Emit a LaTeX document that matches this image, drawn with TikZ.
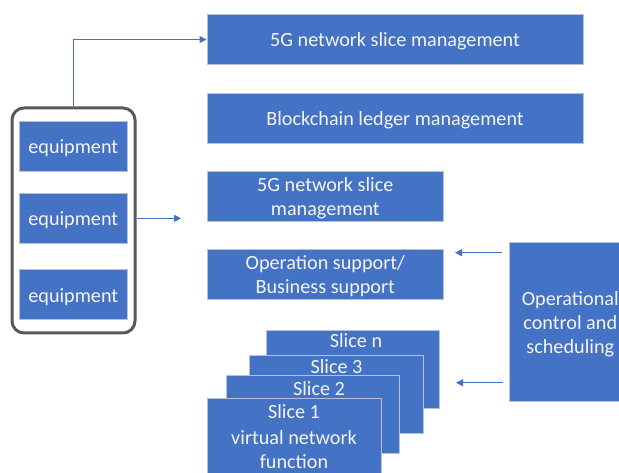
\documentclass[tikz,border=0pt]{standalone}
\usepackage{fontspec}
\setmainfont{Carlito}
\usetikzlibrary{arrows.meta}
\definecolor{boxblue}{HTML}{4472C4}
\definecolor{boxedge}{HTML}{B4C2DE}
\definecolor{txt}{HTML}{F4F4F4}
\definecolor{frame}{HTML}{595959}
\newcommand{\topst}{\rule{0pt}{18.5pt}}
\newcommand{\botst}{\rule[-4.5pt]{0pt}{0pt}}
\tikzset{
  bluebox/.style={draw=boxedge, line width=1pt, fill=boxblue, text=txt, inner sep=0pt,
    font=\fontsize{20.2}{24}\selectfont, align=center},
  plainbox/.style={draw=boxedge, line width=1pt, fill=boxblue, inner sep=0pt},
  arr/.style={draw=boxblue, line width=1pt, -{Triangle[length=7pt,width=7pt]}},
  slicelbl/.style={text=txt, font=\fontsize{20.2}{24}\selectfont, inner sep=0pt}
}
\begin{document}
\begin{tikzpicture}[x=1pt,y=-1pt]
\useasboundingbox (0,0) rectangle (619,473);
\clip (0,0) rectangle (619,473);
\fill[white] (0,0) rectangle (619,473);
% top boxes
\node[bluebox, minimum width=376pt, minimum height=50pt] (top) at (395,39.5) {\topst 5G network slice management\botst};
\node[bluebox, minimum width=376pt, minimum height=50pt] (chain) at (395,118.3) {\topst Blockchain ledger management\botst};
\node[bluebox, minimum width=236pt, minimum height=50pt] (slice5g) at (325.3,196.7) {\topst 5G network slice\\management\botst};
\node[bluebox, minimum width=236pt, minimum height=50pt] (oss) at (325.3,275) {\topst Operation support/\\Business support\botst};
% operational control
\node[bluebox, minimum width=122pt, minimum height=159pt] (opc) at (570.3,322.2) {\topst Operational\\control and\\scheduling\botst};
% slices
\node[plainbox, minimum width=173pt, minimum height=78pt] (slicen) at (353.3,369.2) {};
\node[slicelbl] (lbln) at (356,341) {Slice n};
\node[plainbox, minimum width=174pt, minimum height=78pt] (slice3) at (336.3,394.2) {};
\node[slicelbl] (lbl3) at (336.5,367) {Slice 3};
\node[plainbox, minimum width=173pt, minimum height=78pt] (slice2) at (313.3,414.9) {};
\node[slicelbl] (lbl2) at (319,389) {Slice 2};
\node[plainbox, minimum width=174pt, minimum height=100pt] (slice1) at (294.5,448.3) {};
\node[slicelbl] (lbl1) at (294,412) {Slice 1};
\node[slicelbl, align=center] (vnf) at (294,450) {virtual network\\function};
% equipment container
\node[draw=frame, line width=3pt, rounded corners=12pt, fill=white, minimum width=123pt, minimum height=225pt, inner sep=0pt] (cont) at (73.5,220.5) {};
\node[bluebox, minimum width=108pt, minimum height=50pt] (eq1) at (73.3,146.7) {\topst equipment\botst};
\node[bluebox, minimum width=108pt, minimum height=50pt] (eq2) at (73.3,218.3) {\topst equipment\botst};
\node[bluebox, minimum width=108pt, minimum height=50pt] (eq3) at (73.3,295) {\topst equipment\botst};
% connectors
\draw[arr] (cont.north) |- (top.west);
\coordinate (e2end) at (181,218.3);
\draw[arr] (cont.east |- eq2.east) -- (e2end);
\coordinate (o1s) at (502,252.7);
\coordinate (o1e) at (455,252.7);
\draw[arr] (o1s) -- (o1e);
\coordinate (o2s) at (503,382.7);
\coordinate (o2e) at (456,382.7);
\draw[arr] (o2s) -- (o2e);
\end{tikzpicture}
\end{document}
